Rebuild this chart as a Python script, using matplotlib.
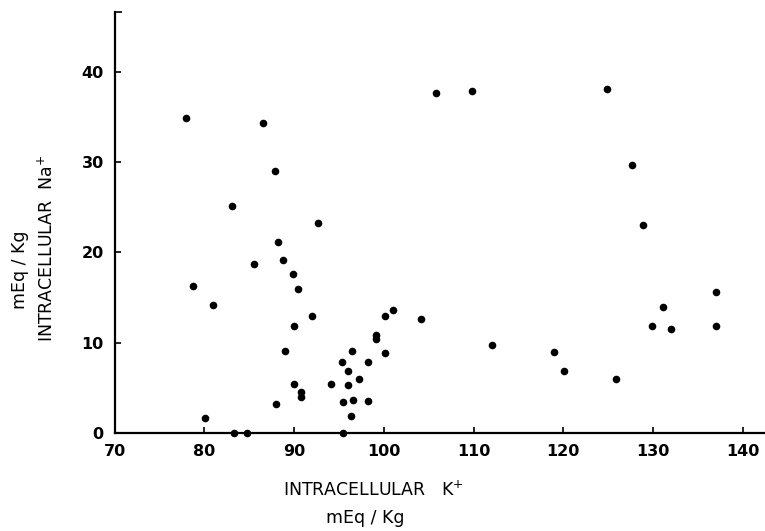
import matplotlib
matplotlib.use('Agg')
import matplotlib.pyplot as plt

# Intracellular K+ (mEq/Kg) vs intracellular Na+ (mEq/Kg)
k_values = [
    77.9, 86.5, 87.9, 83.1, 92.7, 88.2, 88.8, 85.5, 78.7, 89.9,
    90.4, 81.0, 92.0, 90.0, 89.0, 100.1, 101.0, 99.1, 99.1, 100.1,
    96.4, 95.3, 96.0, 98.2, 97.2, 94.1, 90.0, 96.0, 90.8, 90.8,
    95.5, 96.6, 98.2, 88.0, 96.3, 80.1, 83.3, 84.7, 95.5, 105.8,
    109.8, 124.9, 127.7, 128.9, 104.1, 112.1, 119.0, 120.1, 125.9, 129.9,
    131.1, 132.0, 137.0, 137.0,
]
na_values = [
    34.9, 34.3, 29.0, 25.1, 23.2, 21.1, 19.2, 18.7, 16.3, 17.6,
    16.0, 14.2, 13.0, 11.9, 9.1, 13.0, 13.6, 10.9, 10.4, 8.9,
    9.1, 7.9, 6.9, 7.9, 6.0, 5.4, 5.4, 5.3, 4.5, 4.0,
    3.4, 3.6, 3.5, 3.2, 1.9, 1.7, 0.0, 0.0, 0.0, 37.7,
    37.9, 38.1, 29.7, 23.0, 12.6, 9.7, 9.0, 6.9, 6.0, 11.9,
    14.0, 11.5, 15.6, 11.9,
]

x_ticks = [70, 80, 90, 100, 110, 120, 130, 140]
y_ticks = [0, 10, 20, 30, 40]

plt.rcParams['font.family'] = 'DejaVu Sans'

fig = plt.figure(figsize=(7.65, 5.31), dpi=100)
ax = fig.add_axes([0.150, 0.1846, 0.850, 0.7924])

ax.scatter(k_values, na_values, s=20, color='black', clip_on=False, zorder=3)

ax.set_xlim(70, 142.5)
ax.set_ylim(0, 46.6)
ax.set_xticks(x_ticks)
ax.set_yticks(y_ticks)
ax.set_yticks([46.6], minor=True)

ax.spines[['top', 'right']].set_visible(False)
ax.spines[['left', 'bottom']].set_linewidth(1.6)

ax.tick_params(axis='both', which='major', direction='in', length=4,
               width=1.2, labelsize=11.5, pad=8)
ax.tick_params(axis='y', which='minor', direction='in', length=5, width=1.2)
for lab in ax.get_xticklabels() + ax.get_yticklabels():
    lab.set_fontweight('bold')

# axis titles, two lines each
fig.text(47 / 765, 1 - 248 / 531, 'INTRACELLULAR  Na$^{+}$', rotation=90,
         ha='center', va='center', fontsize=12.5)
fig.text(20 / 765, 1 - 270 / 531, 'mEq / Kg', rotation=90,
         ha='center', va='center', fontsize=12.5)
fig.text(373 / 765, 1 - 490 / 531, 'INTRACELLULAR   K$^{+}$',
         ha='center', va='center', fontsize=12.5)
fig.text(365 / 765, 1 - 518 / 531, 'mEq / Kg',
         ha='center', va='center', fontsize=12.5)

fig.savefig('out.png', dpi=100, facecolor='white')
